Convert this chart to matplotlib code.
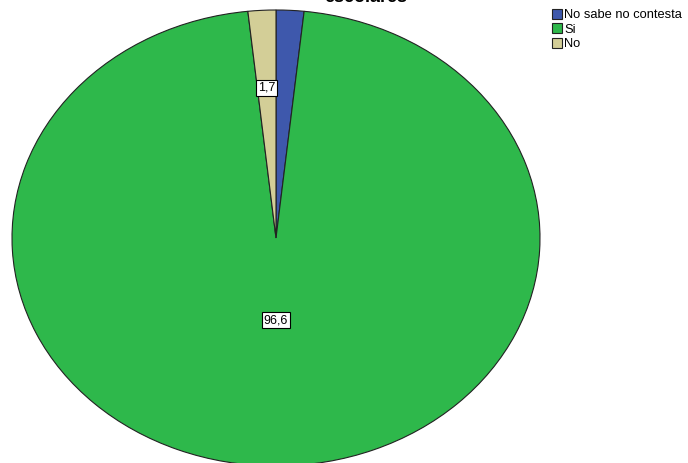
import matplotlib.pyplot as plt
import numpy as np

# Data
labels = ['No sabe no contesta', 'Si', 'No']
values = [1.7, 96.6, 1.7]
colors = ['#3E58AC', '#2EB84B', '#D3CE97']
shown = ['', '96,6', '1,7']
label_r = [0.0, 0.36, 0.66]

plt.rcParams['font.family'] = ['Liberation Sans', 'DejaVu Sans']

W, H = 688, 463
fig = plt.figure(figsize=(W / 100, H / 100), dpi=100)

# elliptical pie: x spans px 12..540, y spans px 10..466
lim = 1.02
cx0, cx1 = 12, 540
cy0, cy1 = 10, 466
pw = (cx1 - cx0) * lim
ph = (cy1 - cy0) * lim
cxm = (cx0 + cx1) / 2
cym = (cy0 + cy1) / 2
ax = fig.add_axes([(cxm - pw / 2) / W, 1 - (cym + ph / 2) / H, pw / W, ph / H])

wedges, _ = ax.pie(values, colors=colors, startangle=90, counterclock=False,
                   wedgeprops=dict(edgecolor='#222222', linewidth=0.8))
ax.set_aspect('auto')
ax.set_xlim(-lim, lim)
ax.set_ylim(-lim, lim)
ax.axis('off')

# value labels in boxes
start = 90.0
for v, txt, r in zip(values, shown, label_r):
    mid = start - v * 3.6 / 2
    start -= v * 3.6
    if not txt:
        continue
    a = np.deg2rad(mid)
    ax.text(r * np.cos(a), r * np.sin(a), txt, ha='center', va='center', fontsize=9,
            bbox=dict(boxstyle='square,pad=0.15', facecolor='white', edgecolor='black', linewidth=0.8))

# title, clipped at the top edge
fig.text(366 / W, 1 - 2 / H, 'escolares', ha='center', va='baseline',
         fontsize=13, fontweight='bold')

fig.legend(wedges, labels, loc='upper left', bbox_to_anchor=(552 / W, 1 - 9 / H),
           frameon=False, fontsize=9.3, handlelength=0.8, handleheight=0.8,
           handletextpad=0.15, labelspacing=0.15, borderpad=0, borderaxespad=0)

fig.savefig('out.png', dpi=100)
